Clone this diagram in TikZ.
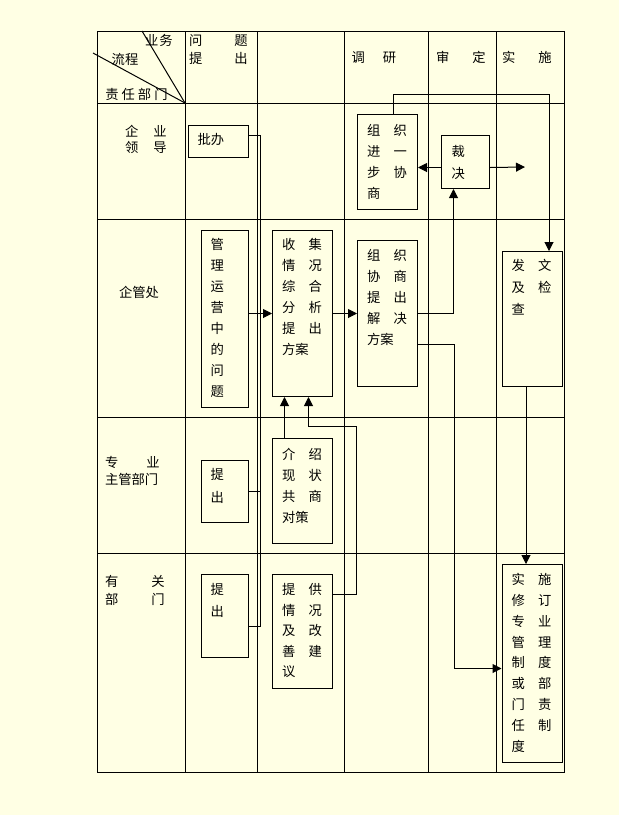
\documentclass[tikz,border=0pt]{standalone}
\usepackage{fontspec}
\setmainfont{Noto Sans CJK SC}
\usetikzlibrary{arrows.meta}
\definecolor{bgyellow}{RGB}{255,255,228}
\newcommand{\cgap}{\hspace{1em}}
\tikzstyle{box} = [rectangle, draw=black, anchor=north west, inner sep=0pt]
\tikzstyle{boxtext} = [anchor=north west, inner sep=0pt, align=left, font=\fontsize{13.3}{21}\selectfont]
\tikzstyle{head} = [inner sep=0pt, align=center, font=\fontsize{13.3}{16}\selectfont]
\tikzstyle{arrow} = [-{Triangle[length=9pt,width=9pt]}]

\begin{document}
\begin{tikzpicture}[x=1pt, y=-1pt, line width=1pt]

\fill[bgyellow] (0,0) rectangle (619,815);
\useasboundingbox (0,0) rectangle (619,815);

% Table
\draw (97,31) rectangle (564,772);
\foreach \x in {185,257,344,428,496} \draw (\x,31) -- (\x,772);
\foreach \y in {103,219,417,553} \draw (97,\y) -- (564,\y);
\draw (93,53) -- (185,103);
\draw (142,31) -- (185,103);

% Header
\node (hyw) [head] at (159,40.5) {业\kern1pt 务};
\node (hlc) [head] at (125,59) {流程};
\node (hzr) [head] at (136.5,94) {责\kern3pt 任\kern3pt 部\kern3pt 门};
\node (hwt) [head, font=\fontsize{13.3}{18}\selectfont] at (218.3,50) {问\hspace{32pt}题\\提\hspace{32pt}出};
\node (hdy) [head] at (374,57.5) {调\hspace{18pt}研};
\node (hsd) [head] at (461,57.5) {审\hspace{23pt}定};
\node (hss) [head] at (527,57.5) {实\hspace{23pt}施};

% Departments
\node (rqy) [head] at (146,139.5) {企\hspace{15pt}业\\领\hspace{15pt}导};
\node (rqg) [head] at (139,292.5) {企管处};
\node (rzy) [head, anchor=west, align=left, font=\fontsize{13.3}{16.5}\selectfont] at (104.5,471) {专\hspace{28pt}业\\主管部门};
\node (ryg) [head, anchor=west, align=left, font=\fontsize{13.3}{18}\selectfont] at (104.5,590) {有\hspace{33pt}关\\部\hspace{33pt}门};

% Boxes
\node (pb) [box, minimum width=60, minimum height=32] at (188,125) {};
\node (pb-t) [boxtext] at (197,133) {批办};
\node (gl) [box, minimum width=47, minimum height=177] at (201,230) {};
\node (gl-t) [boxtext] at (210,238) {管\\理\\运\\营\\中\\的\\问\\题};
\node (sj) [box, minimum width=60, minimum height=166] at (272,230) {};
\node (sj-t) [boxtext] at (281.5,238) {收\cgap 集\\情\cgap 况\\综\cgap 合\\分\cgap 析\\提\cgap 出\\方案};
\node (zx) [box, minimum width=60, minimum height=146] at (357,240) {};
\node (zx-t) [boxtext] at (366.5,249) {组\cgap 织\\协\cgap 商\\提\cgap 出\\解\cgap 决\\方案};
\node (zy) [box, minimum width=60, minimum height=95] at (357,114) {};
\node (zy-t) [boxtext] at (366.5,124) {组\cgap 织\\进\cgap 一\\步\cgap 协\\商};
\node (cj) [box, minimum width=48, minimum height=53] at (441,135) {};
\node (cj-t) [boxtext, font=\fontsize{13.3}{22}\selectfont] at (451,145) {裁\\决};
\node (fw) [box, minimum width=60, minimum height=135] at (501.5,251) {};
\node (fw-t) [boxtext, font=\fontsize{13.3}{22}\selectfont] at (511,259) {发\cgap 文\\及\cgap 检\\查};
\node (tc1) [box, minimum width=47, minimum height=62] at (201,460) {};
\node (tc1-t) [boxtext, font=\fontsize{13.3}{23}\selectfont] at (210,468) {提\\出};
\node (js) [box, minimum width=60, minimum height=105] at (272,438) {};
\node (js-t) [boxtext] at (281.5,448) {介\cgap 绍\\现\cgap 状\\共\cgap 商\\对策};
\node (tc2) [box, minimum width=47, minimum height=83] at (201,574) {};
\node (tc2-t) [boxtext, font=\fontsize{13.3}{22}\selectfont] at (210,583) {提\\出};
\node (tg) [box, minimum width=60, minimum height=114] at (272,574) {};
\node (tg-t) [boxtext, font=\fontsize{13.3}{20.5}\selectfont] at (281.5,583) {提\cgap 供\\情\cgap 况\\及\cgap 改\\善\cgap 建\\议};
\node (ss) [box, minimum width=60, minimum height=198] at (501.5,564) {};
\node (ss-t) [boxtext, font=\fontsize{13.3}{20.8}\selectfont] at (511,573) {实\cgap 施\\修\cgap 订\\专\cgap 业\\管\cgap 理\\制\cgap 度\\或\cgap 部\\门\cgap 责\\任\cgap 制\\度};

% Turning points
\coordinate (busend) at (260,626);
\coordinate (zyturn) at (549,94);
\coordinate (tgturn) at (356.7,426.7);
\coordinate (cjend) at (525,167);

% Connecting lines
\draw ([yshift=6pt]pb.east) -| (busend) -- (busend -| tc2.east);
\draw (tc1.east) -- (tc1.east -| busend);
\draw [arrow] (sj.west -| gl.east) -- (sj.west);
\draw [arrow] (sj) -- (zx);
\draw [arrow] (zx.east) -| ([xshift=-12pt]cj.south);
\draw [arrow] ([yshift=-31pt]zx.east) -- ++(36,0) |- ([yshift=-5pt]ss.west);
\draw [arrow] ([yshift=-5.5pt]cj.west) -- ([yshift=-5.5pt]zy.east);
\draw [arrow] ([yshift=-5.5pt]cj.east) -- (cjend);
\draw [arrow] ([xshift=6pt]zy.north) |- (zyturn) -- (zyturn |- fw.north);
\draw [arrow] ([xshift=-6pt]fw.south) -- ([xshift=-6pt]ss.north);
\draw [arrow] ([xshift=-18pt]js.north) -- ([xshift=-18pt]sj.south);
\draw [arrow] ([yshift=37pt]tg.east) -| (tgturn) -| ([xshift=6pt]sj.south);

\end{tikzpicture}
\end{document}
